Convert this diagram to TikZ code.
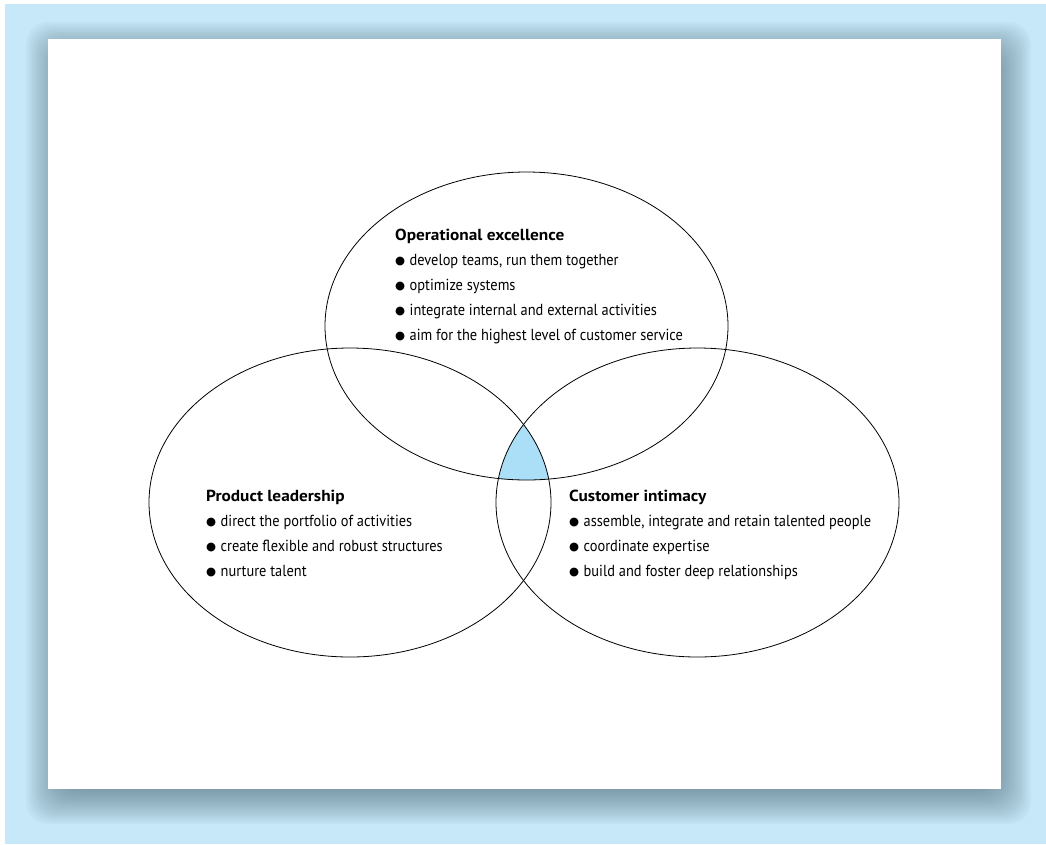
\documentclass[tikz,border=0pt]{standalone}
\usepackage{fontspec}
\setmainfont{PT Sans}
\newfontfamily\itemfont[FakeStretch=0.9]{PT Sans}
\newfontfamily\headfont[FakeStretch=1.08]{PT Sans}
\newfontfamily\bulfont{DejaVu Sans}
\definecolor{bgblue}{HTML}{C6E8F8}
\definecolor{shadowc}{HTML}{3E5866}
\definecolor{capfill}{HTML}{ABDFF8}
\tikzset{
  headtext/.style={anchor=base west, inner sep=0pt, font=\headfont\fontsize{16}{18}\selectfont\bfseries},
  itemtext/.style={anchor=base west, inner sep=0pt, font=\itemfont\fontsize{16}{18}\selectfont},
  ring/.style={draw=black, line width=0.8pt},
}
\newcommand{\bul}{\makebox[14.5pt][l]{\raisebox{0.3pt}{\bulfont\fontsize{11.5}{11}\selectfont ●}}}
\begin{document}
\begin{tikzpicture}[x=1pt,y=-1pt]
\useasboundingbox (0,0) rectangle (1046,844);
\fill[white] (0,0) rectangle (1046,844);
\fill[bgblue] (5,4) rectangle (1046,844);
% shadow
\foreach \d in {-20,-18,...,20}{
  \fill[shadowc, opacity=0.035, rounded corners=22pt] (46-\d,42-\d) rectangle (1011+\d,804+\d);
}
% card
\fill[white] (48,39) rectangle (1001,789);
% intersection
\begin{scope}
  \clip (526.5,326) ellipse [x radius=201.5pt, y radius=154pt];
  \clip (350,502.5) ellipse [x radius=201pt, y radius=154.5pt];
  \fill[capfill] (697.5,502.5) ellipse [x radius=201.5pt, y radius=154.5pt];
\end{scope}
\draw[ring] (526.5,326) ellipse [x radius=201.5pt, y radius=154pt];
\draw[ring] (350,502.5) ellipse [x radius=201pt, y radius=154.5pt];
\draw[ring] (697.5,502.5) ellipse [x radius=201.5pt, y radius=154.5pt];
% texts
\node[headtext] (oeh) at (395,240) {Operational excellence};
\node[itemtext] (oe1) at (395,265) {\bul develop teams, run them together};
\node[itemtext] (oe2) at (395,290) {\bul optimize systems};
\node[itemtext] (oe3) at (395,315) {\bul integrate internal and external activities};
\node[itemtext] (oe4) at (395,340) {\bul aim for the highest level of customer service};
\node[headtext] (plh) at (206,501) {Product leadership};
\node[itemtext] (pl1) at (206,526) {\bul direct the portfolio of activities};
\node[itemtext] (pl2) at (206,551) {\bul create flexible and robust structures};
\node[itemtext] (pl3) at (206,576) {\bul nurture talent};
\node[headtext] (cih) at (569,501) {Customer intimacy};
\node[itemtext] (ci1) at (569,526) {\bul assemble, integrate and retain talented people};
\node[itemtext] (ci2) at (569,551) {\bul coordinate expertise};
\node[itemtext] (ci3) at (569,576) {\bul build and foster deep relationships};
\end{tikzpicture}
\end{document}
